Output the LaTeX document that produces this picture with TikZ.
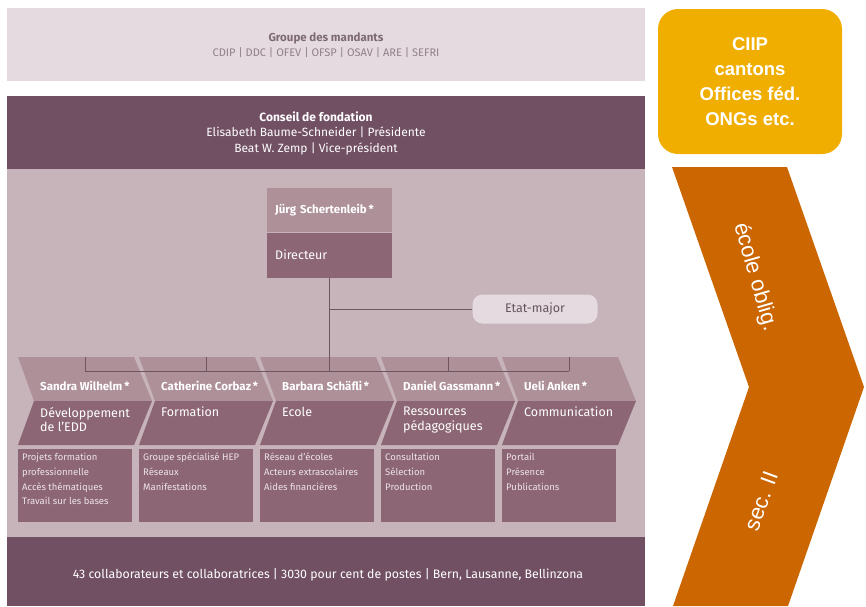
\documentclass[tikz,border=0pt]{standalone}
\usepackage{fontspec}
\setmainfont{Fira Sans}
\newfontfamily\arialfont{Liberation Sans}
\usetikzlibrary{positioning}

\definecolor{bandlight}{HTML}{E5DADF}
\definecolor{banddark}{HTML}{725064}
\definecolor{bandmid}{HTML}{C7B3BA}
\definecolor{boxlight}{HTML}{AE9099}
\definecolor{boxdark}{HTML}{8C6674}
\definecolor{linecol}{HTML}{6E5562}
\definecolor{greytext}{HTML}{7D6A73}
\definecolor{listtext}{HTML}{EDE3E6}
\definecolor{ciipcol}{HTML}{F0AE00}
\definecolor{stagecol}{HTML}{CC6600}

\tikzset{
  bandtext/.style={align=center, inner sep=0pt, font=\fontsize{11}{15.5}\selectfont},
  dirtop/.style={fill=boxlight, text=white, anchor=north west, inner xsep=8pt, inner ysep=0pt,
    text width=109pt, minimum height=44pt, font=\bfseries\fontsize{11.5}{13}\selectfont},
  dirbot/.style={fill=boxdark, text=white, inner xsep=8pt, inner ysep=0pt,
    text width=109pt, minimum height=45pt, font=\fontsize{12.5}{14}\selectfont},
  etatbox/.style={fill=bandlight, text=greytext!80!black, rounded corners=10pt, minimum width=125pt,
    minimum height=29pt, font=\fontsize{12.5}{14}\selectfont},
  orgline/.style={draw=linecol, line width=0.9pt},
  chevname/.style={text=white, anchor=west, inner sep=0pt, font=\bfseries\fontsize{11.5}{13}\selectfont},
  chevrole/.style={text=white, anchor=north west, inner sep=0pt, align=left,
    font=\fontsize{12.5}{14.5}\selectfont},
  listtxt/.style={text=listtext, anchor=north west, inner sep=0pt, align=left,
    font=\fontsize{9.5}{14.7}\selectfont},
  ciipbox/.style={fill=ciipcol, text=white, rounded corners=20pt, minimum width=184pt,
    minimum height=145pt, align=center, font=\arialfont\bfseries\fontsize{18.5}{25}\selectfont},
  stagetext/.style={text=white, inner sep=0pt, font=\arialfont\fontsize{22}{24}\selectfont}
}

\begin{document}
\begin{tikzpicture}[x=1pt,y=-1pt]
\useasboundingbox (0,0) rectangle (866,606);

% bands
\fill[bandlight] (7,8) rectangle (645,81);
\fill[banddark] (7,96) rectangle (645,169);
\fill[bandmid] (7,169) rectangle (645,537);
\fill[banddark] (7,537) rectangle (645,606);

\node[bandtext, text=greytext] (mandants) at (326,45)
  {{\bfseries\fontsize{11.5}{15.5}\selectfont Groupe des mandants}\\{\color{greytext!85!white}CDIP | DDC | OFEV | OFSP | OSAV | ARE | SEFRI}};
\node[bandtext, text=white, font=\fontsize{12}{15.5}\selectfont] (conseil) at (316,133)
  {{\bfseries Conseil de fondation}\\Elisabeth Baume-Schneider | Présidente\\Beat W. Zemp | Vice-président};
\node[bandtext, text=white, font=\fontsize{12.3}{14}\selectfont] (staff) at (328,575)
  {43 collaborateurs et collaboratrices | 3030 pour cent de postes | Bern, Lausanne, Bellinzona};

% direction
\node[dirtop] (dirname) at (267,188) {Jürg Schertenleib\,*};
\node[dirbot, below=0pt of dirname] (dirrole) {Directeur};
\node[etatbox] (etat) at (535,309) {Etat-major};

% units
\foreach \i/\who/\what/\list in {
  1/{Sandra Wilhelm}/{Développement\\de l’EDD}/{Projets formation\\professionnelle\\Accès thématiques\\Travail sur les bases},
  2/{Catherine Corbaz}/{Formation}/{Groupe spécialisé HEP\\Réseaux\\Manifestations},
  3/{Barbara Schäfli}/{Ecole}/{Réseau d’écoles\\Acteurs extrascolaires\\Aides financières},
  4/{Daniel Gassmann}/{Ressources\\pédagogiques}/{Consultation\\Sélection\\Production},
  5/{Ueli Anken}/{Communication}/{Portail\\Présence\\Publications}}
{
  \pgfmathsetmacro{\xo}{18+121*(\i-1)}
  \fill[boxlight] (\xo,357) -- (\xo+116,357) -- (\xo+134,401) -- (\xo+16,401) -- cycle;
  \fill[boxdark] (\xo+16,401) -- (\xo+134,401) -- (\xo+116,445) -- (\xo,445) -- cycle;
  \fill[boxdark] (\xo,449) rectangle (\xo+114,522);
  \coordinate (top\i) at (\xo+67,357);
  \node[chevname] (who\i) at (\xo+22,386) {\who\,*};
  \node[chevrole] (what\i) at (\xo+22,407) {\what};
  \node[listtxt] (list\i) at (\xo+4,453) {\list};
}

% connectors
\coordinate (hub) at (dirrole.south |- top1);
\coordinate (bus) at ([yshift=-14pt]hub);
\draw[orgline] (dirrole.south) -- (bus);
\draw[orgline] (dirrole.south |- etat.west) -- (etat.west);
\draw[orgline] (top1 |- bus) -- (top5 |- bus);
\foreach \i in {1,2,4,5}
  \draw[orgline] (top\i |- bus) -- (top\i);

% partners and levels
\node[ciipbox] (ciip) at (750,81.5) {CIIP\\cantons\\Offices féd.\\ONGs etc.};
\fill[stagecol] (672,167) -- (787,167) -- (864,387) -- (788,606) -- (673,606) -- (749,387) -- cycle;
\node[stagetext, rotate=-74] (oblig) at (755,277) {école oblig.};
\node[stagetext, rotate=70] (sec) at (761,501) {sec. II};
\end{tikzpicture}
\end{document}
